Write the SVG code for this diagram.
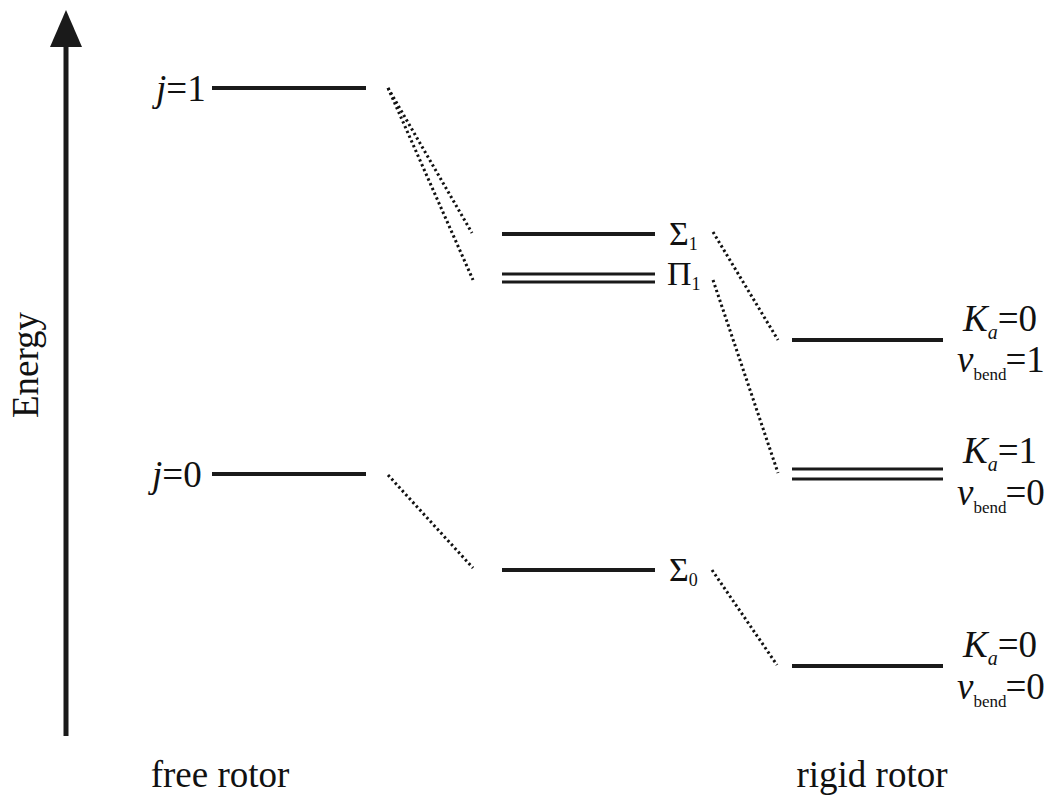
<svg xmlns="http://www.w3.org/2000/svg" width="1047" height="798" viewBox="0 0 1047 798">
<style>
.lv{stroke:#1a1a1a;stroke-width:4;fill:none}
.lv2{stroke:#1a1a1a;stroke-width:3.2;fill:none}
.dot{stroke:#111;stroke-width:3;stroke-dasharray:2.4 2.8;fill:none}
text{font-family:"Liberation Serif","Times New Roman",serif;fill:#111}
.big{font-size:37px}
.it{font-style:italic}
.sub{font-size:20px}
.vsub{font-size:17px}
.gr{font-size:34px}
.gsub{font-size:18px}
</style>
<rect width="1047" height="798" fill="#fff"/>
<g id="axis">
<line x1="66" y1="736" x2="66" y2="44" stroke="#1a1a1a" stroke-width="5"/>
<polygon points="66,10 50,47 82,47" fill="#1a1a1a"/>
<text class="big" transform="translate(38,365) rotate(-90)" text-anchor="middle" font-size="40">Energy</text>
</g>
<g id="free-j1">
<line class="lv" x1="212" y1="88" x2="366" y2="88"/>
<text class="big" x="156" y="101"><tspan class="it">j</tspan>=1</text>
</g>
<g id="free-j0">
<line class="lv" x1="212" y1="474" x2="366" y2="474"/>
<text class="big" x="152" y="487"><tspan class="it">j</tspan>=0</text>
</g>
<g id="sigma1">
<line class="lv" x1="502" y1="234" x2="655" y2="234"/>
<text class="gr" x="669" y="245">Σ<tspan class="gsub" dy="5">1</tspan></text>
</g>
<g id="pi1">
<line class="lv2" x1="502" y1="274" x2="655" y2="274"/>
<line class="lv2" x1="502" y1="282" x2="655" y2="282"/>
<text class="gr" x="667" y="285">Π<tspan class="gsub" dy="5">1</tspan></text>
</g>
<g id="sigma0">
<line class="lv" x1="502" y1="570" x2="655" y2="570"/>
<text class="gr" x="669" y="581">Σ<tspan class="gsub" dy="5">0</tspan></text>
</g>
<g id="rigid-K0v1">
<line class="lv" x1="792" y1="340" x2="943" y2="340"/>
<text class="big" x="963" y="331"><tspan class="it">K</tspan><tspan class="sub it" dy="8">a</tspan><tspan dy="-8">=0</tspan></text>
<text class="big" x="957" y="372"><tspan class="it">v</tspan><tspan class="vsub" dy="8">bend</tspan><tspan dy="-8" dx="-1">=1</tspan></text>
</g>
<g id="rigid-K1v0">
<line class="lv2" x1="792" y1="469" x2="943" y2="469"/>
<line class="lv2" x1="792" y1="479" x2="943" y2="479"/>
<text class="big" x="963" y="463"><tspan class="it">K</tspan><tspan class="sub it" dy="8">a</tspan><tspan dy="-8">=1</tspan></text>
<text class="big" x="957" y="505"><tspan class="it">v</tspan><tspan class="vsub" dy="8">bend</tspan><tspan dy="-8" dx="-1">=0</tspan></text>
</g>
<g id="rigid-K0v0">
<line class="lv" x1="792" y1="666" x2="943" y2="666"/>
<text class="big" x="963" y="657"><tspan class="it">K</tspan><tspan class="sub it" dy="8">a</tspan><tspan dy="-8">=0</tspan></text>
<text class="big" x="957" y="699"><tspan class="it">v</tspan><tspan class="vsub" dy="8">bend</tspan><tspan dy="-8" dx="-1">=0</tspan></text>
</g>
<g id="labels">
<text class="big" x="220" y="787" text-anchor="middle">free rotor</text>
<text class="big" x="872" y="787" text-anchor="middle">rigid rotor</text>
</g>
<g id="connectors">
<line class="dot" x1="388" y1="88" x2="472" y2="233"/>
<line class="dot" x1="388" y1="88" x2="473" y2="280"/>
<line class="dot" x1="388" y1="475" x2="473" y2="568"/>
<line class="dot" x1="713" y1="232" x2="778" y2="340"/>
<line class="dot" x1="713" y1="280" x2="778" y2="473"/>
<line class="dot" x1="712" y1="570" x2="777" y2="665"/>
</g>
</svg>
